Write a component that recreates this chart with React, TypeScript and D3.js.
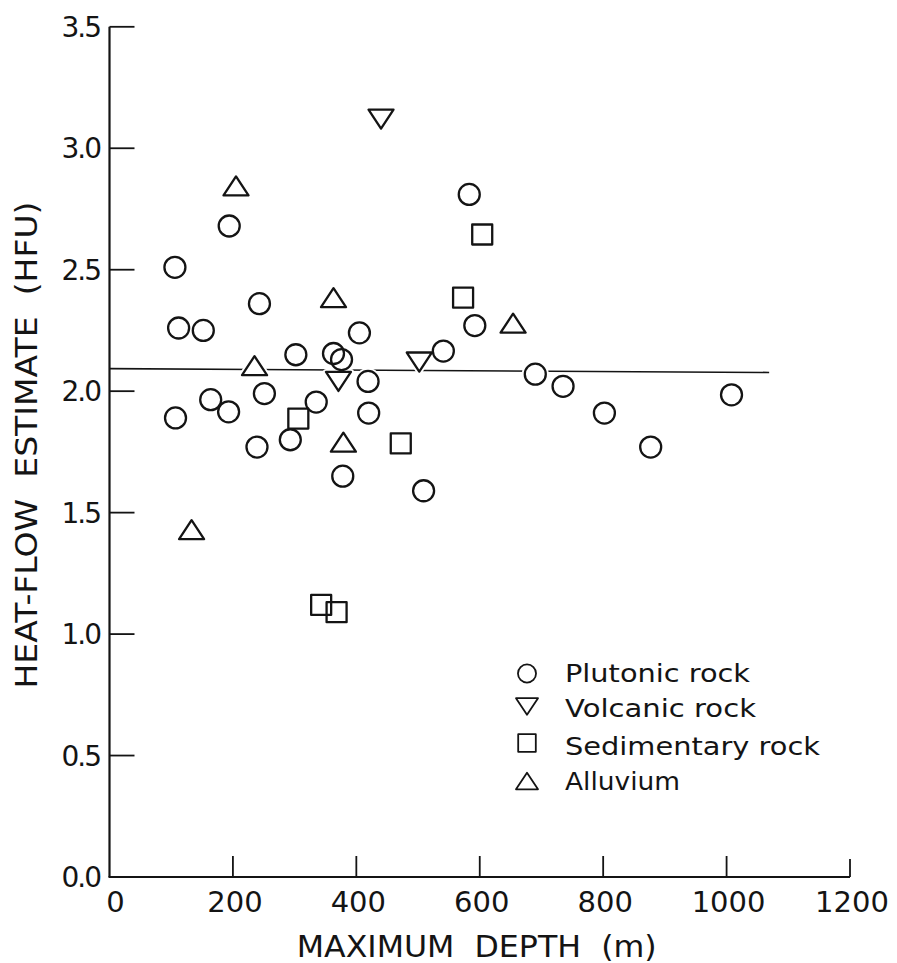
import React from "react";
import * as d3 from "d3";

// ---- data ----
const plutonicDepth = [583, 194, 106, 243, 592, 112, 152, 405, 302, 363, 376, 419, 541, 251, 164, 193, 107, 335, 420, 293, 239, 378, 509, 690, 735, 802, 877, 1008];
const plutonicHFU = [2.81, 2.68, 2.51, 2.36, 2.27, 2.26, 2.25, 2.24, 2.15, 2.155, 2.13, 2.04, 2.165, 1.99, 1.965, 1.915, 1.89, 1.955, 1.91, 1.8, 1.77, 1.65, 1.59, 2.07, 2.02, 1.91, 1.77, 1.985];

const volcanicDepth = [440, 371, 502];
const volcanicHFU = [3.12, 2.04, 2.12];

const sedimentaryDepth = [604, 573, 306, 472, 343, 368];
const sedimentaryHFU = [2.645, 2.385, 1.887, 1.785, 1.12, 1.09];

const alluviumDepth = [205, 363, 235, 379, 133, 654];
const alluviumHFU = [2.845, 2.385, 2.105, 1.79, 1.43, 2.28];

const meanLineDepth = [0, 1069];
const meanLineHFU = [2.093, 2.077];

const xTicks = [0, 200, 400, 600, 800, 1000, 1200];
const xTickLabels = ["0", "200", "400", "600", "800", "1000", "1200"];
const yTicks = [0, 0.5, 1.0, 1.5, 2.0, 2.5, 3.0, 3.5];
const yTickLabels = ["0.0", "0.5", "1.0", "1.5", "2.0", "2.5", "3.0", "3.5"];

const legendLabels = ["Plutonic rock", "Volcanic rock", "Sedimentary rock", "Alluvium"];
const legendShapes = ["circle", "down", "square", "up"];

const xTitle = "MAXIMUM  DEPTH  (m)";
const yTitle = "HEAT-FLOW  ESTIMATE  (HFU)";

// ---- layout ----
const W = 897;
const H = 963;
const FONT = "'DejaVu Sans', sans-serif";
const INK = "#141414";

const x = d3.scaleLinear().domain([0, 1200]).range([109.5, 850]);
const y = d3.scaleLinear().domain([0, 3.5]).range([877, 26.8]);

function shapePath(kind: string, cx: number, cy: number, s: number): string {
  const p = d3.path();
  if (kind === "circle") {
    const r = 10.5 * s;
    p.moveTo(cx + r, cy);
    p.arc(cx, cy, r, 0, Math.PI * 2);
    p.closePath();
  } else if (kind === "square") {
    const h = 10 * s;
    p.rect(cx - h, cy - h, 2 * h, 2 * h);
  } else if (kind === "up") {
    const w = 12.5 * s, hh = 9.5 * s;
    p.moveTo(cx, cy - hh);
    p.lineTo(cx + w, cy + hh);
    p.lineTo(cx - w, cy + hh);
    p.closePath();
  } else {
    const w = 12.5 * s, hh = 9.5 * s;
    p.moveTo(cx - w, cy - hh);
    p.lineTo(cx + w, cy - hh);
    p.lineTo(cx, cy + hh);
    p.closePath();
  }
  return p.toString();
}

type Pt = { kind: string; d: number; v: number };

const points: Pt[] = [
  ...plutonicDepth.map((d, i) => ({ kind: "circle", d, v: plutonicHFU[i] })),
  ...volcanicDepth.map((d, i) => ({ kind: "down", d, v: volcanicHFU[i] })),
  ...sedimentaryDepth.map((d, i) => ({ kind: "square", d, v: sedimentaryHFU[i] })),
  ...alluviumDepth.map((d, i) => ({ kind: "up", d, v: alluviumHFU[i] })),
];

export default function App() {
  const line = d3
    .line<number>()
    .x((d) => x(d))
    .y((_, i) => y(meanLineHFU[i]));

  const legendX = 527;
  const legendTextX = 565;
  const legendRowsY = [673.5, 706.5, 743, 781];
  const legendBaselines = [681.5, 716.5, 755, 790];
  const legendWidths = [185, 191, 255, 115];

  return (
    <svg
      width={W}
      height={H}
      viewBox={`0 0 ${W} ${H}`}
      style={{ position: "absolute", left: 0, top: 0, background: "#fff" }}
    >
      <rect x={0} y={0} width={W} height={H} fill="#fff" />

      {/* axes */}
      <line x1={x(0)} x2={x(0)} y1={y(0)} y2={y(3.5)} stroke={INK} strokeWidth={2.2} />
      <line x1={x(0) - 1} x2={x(1200)} y1={y(0)} y2={y(0)} stroke={INK} strokeWidth={2} />

      {yTicks.map((t, i) =>
        t === 0 ? null : (
          <line key={"yt" + i} x1={x(0)} x2={x(0) + 25} y1={y(t)} y2={y(t)} stroke={INK} strokeWidth={1.8} />
        )
      )}
      {yTickLabels.map((lab, i) => (
        <text
          key={"yl" + i}
          x={100}
          y={y(yTicks[i])}
          dy="0.36em"
          textAnchor="end"
          fontFamily={FONT}
          fontSize={28}
          letterSpacing={-2}
          fill={INK}
        >
          {lab}
        </text>
      ))}

      {xTicks.map((t, i) =>
        t === 0 ? null : (
          <line
            key={"xt" + i}
            x1={x(t)}
            x2={x(t)}
            y1={y(0)}
            y2={y(0) - (t === 1200 ? 18 : 21)}
            stroke={INK}
            strokeWidth={1.8}
          />
        )
      )}
      {xTickLabels.map((lab, i) => (
        <text
          key={"xl" + i}
          x={xTicks[i] === 0 ? x(0) + 6 : x(xTicks[i]) + 2}
          y={911.5}
          textAnchor="middle"
          fontFamily={FONT}
          fontSize={29}
          fill={INK}
        >
          {lab}
        </text>
      ))}

      {/* axis titles */}
      <text
        x={476.7}
        y={956.5}
        textAnchor="middle"
        fontFamily={FONT}
        fontSize={29.5}
        textLength={360}
        lengthAdjust="spacingAndGlyphs"
        fill={INK}
        style={{ whiteSpace: "pre" }}
      >
        {xTitle}
      </text>
      <text
        transform={`translate(37,445) rotate(-90)`}
        textAnchor="middle"
        fontFamily={FONT}
        fontSize={31}
        textLength={487}
        lengthAdjust="spacingAndGlyphs"
        fill={INK}
        style={{ whiteSpace: "pre" }}
      >
        {yTitle}
      </text>

      {/* mean line */}
      <path d={line(meanLineDepth) || ""} fill="none" stroke={INK} strokeWidth={1.6} />

      {/* knockouts so the line breaks at markers */}
      {points.map((p, i) => (
        <path
          key={"k" + i}
          d={shapePath(p.kind, x(p.d), y(p.v), 1)}
          fill="#fff"
          stroke="#fff"
          strokeWidth={6}
          strokeLinejoin="round"
        />
      ))}

      {/* markers */}
      {points.map((p, i) => (
        <path
          key={"m" + i}
          d={shapePath(p.kind, x(p.d), y(p.v), 1)}
          fill="none"
          stroke={INK}
          strokeWidth={2.3}
          strokeLinejoin="round"
        />
      ))}

      {/* legend */}
      {legendLabels.map((lab, i) => (
        <g key={"lg" + i}>
          <path
            d={shapePath(legendShapes[i], legendX, legendRowsY[i], legendShapes[i] === "circle" ? 0.86 : 0.88)}
            fill="none"
            stroke={INK}
            strokeWidth={1.8}
            strokeLinejoin="round"
          />
          <text
            x={legendTextX}
            y={legendBaselines[i]}
            fontFamily={FONT}
            fontSize={25}
            textLength={legendWidths[i]}
            lengthAdjust="spacingAndGlyphs"
            fill={INK}
          >
            {lab}
          </text>
        </g>
      ))}
    </svg>
  );
}
